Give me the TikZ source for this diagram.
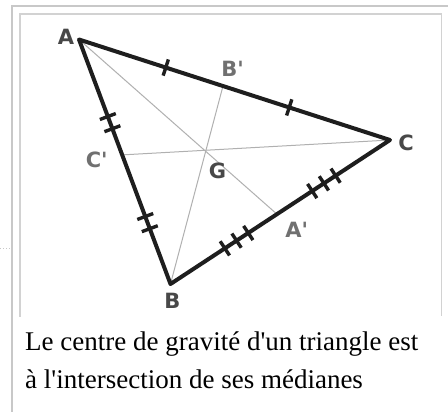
\documentclass[tikz,border=0pt]{standalone}
\usepackage{fontspec}
\setmainfont{Liberation Serif}[Ligatures=TeXOff]
\newfontfamily\labfont{DejaVu Sans}
\usetikzlibrary{decorations.markings,calc}
\definecolor{outerframe}{HTML}{C8C8C8}
\definecolor{innerframe}{HTML}{D2D2D2}
\definecolor{sidecol}{HTML}{1E1E1E}
\definecolor{medcol}{HTML}{B0B0B0}
\definecolor{labdark}{HTML}{484848}
\definecolor{labprime}{HTML}{707070}
\begin{document}
\begin{tikzpicture}[x=1pt,y=-1pt,
  side/.style={draw=sidecol,line width=4pt,line join=round,line cap=round},
  median/.style={draw=medcol,line width=1pt},
  tickline/.style={draw=sidecol,line width=3.4pt},
  onetick/.style={postaction={decorate,decoration={markings,
      mark=at position #1 with {\draw[tickline] (0,-8.5) -- (0,8.5);}}}},
  twotick/.style={postaction={decorate,decoration={markings,
      mark=at position #1 with {\draw[tickline] (-6.5,-8.5) -- (-6.5,8.5) (6.5,-8.5) -- (6.5,8.5);}}}},
  threetick/.style={postaction={decorate,decoration={markings,
      mark=at position #1 with {\draw[tickline] (-14,-8.5) -- (-14,8.5) (0,-8.5) -- (0,8.5) (14,-8.5) -- (14,8.5);}}}},
  vlabel/.style={text=labdark,font=\labfont\bfseries\fontsize{21}{21}\selectfont,inner sep=0pt},
  plabel/.style={text=labprime,font=\labfont\bfseries\fontsize{21}{21}\selectfont,inner sep=0pt},
  caption/.style={font=\fontsize{27}{27}\selectfont,inner sep=0pt,anchor=base west}
]
\useasboundingbox (0,0) rectangle (448,412);
\fill[white] (0,0) rectangle (448,412);
% frames
\draw[outerframe,line width=2pt] (12,412) -- (12,6) -- (448,6);
\draw[innerframe,line width=1.5pt] (20,316.5) -- (20,14) -- (441.5,14) -- (441.5,316);
\draw[outerframe,line width=1pt,dotted] (0,248.3) -- (11,248.3);
% vertices and feet
\coordinate (A) at (79,39.5);
\coordinate (B) at (170.5,284);
\coordinate (C) at (390,140);
\coordinate (A') at ($(B)!0.485!(C)$);
\coordinate (B') at ($(A)!0.463!(C)$);
\coordinate (C') at ($(A)!0.472!(B)$);
% medians
\draw[median] (A) -- (A');
\draw[median] (B) -- (B');
\draw[median] (C) -- (C');
% sides
\draw[side] (A) -- (C) -- (B) -- cycle;
\path[onetick=0.279,onetick=0.676] (A) -- (C);
\path[twotick=0.340,twotick=0.749] (A) -- (B);
\path[threetick=0.301,threetick=0.699] (B) -- (C);
% labels
\node[vlabel] (lA) at (66,36.5) {A};
\node[vlabel] (lB) at (172.5,300.8) {B};
\node[vlabel] (lC) at (406,143.3) {C};
\node[vlabel] (lG) at (217.5,170.8) {G};
\node[plabel] (lBp) at (232.5,69) {B'};
\node[plabel] (lCp) at (96.7,159.7) {C'};
\node[plabel] (lAp) at (296.7,230) {A'};
% caption
\node[caption] (cap1) at (25,350.7) {Le centre de gravité d'un triangle est};
\node[caption] (cap2) at (25,388.3) {à l'intersection de ses médianes};
\end{tikzpicture}
\end{document}
